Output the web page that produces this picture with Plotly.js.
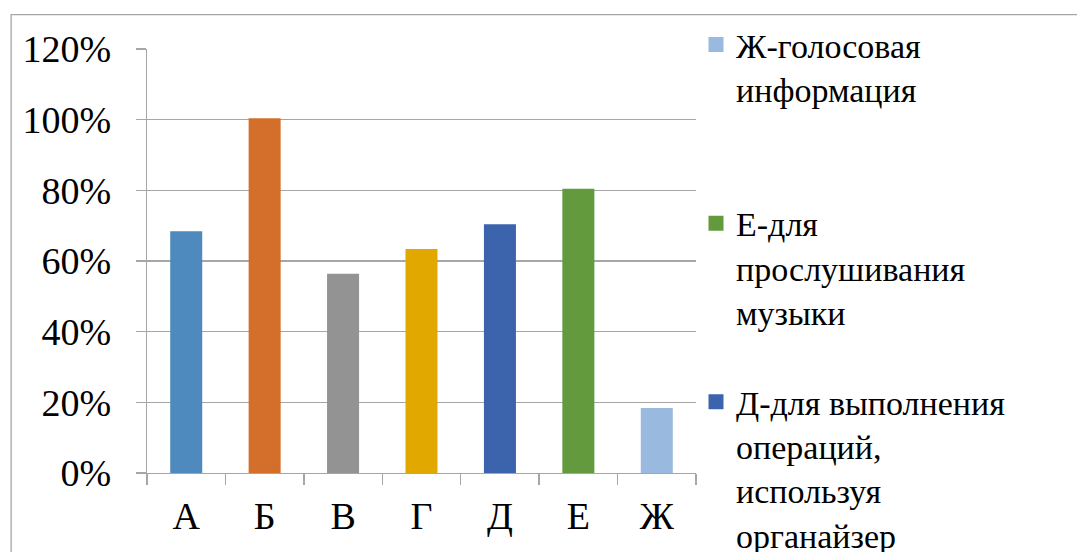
<!DOCTYPE html>
<html>
<head>
<meta charset="utf-8">
<script src="https://cdn.plot.ly/plotly-3.0.1.min.js"></script>
<style>
  html, body { margin: 0; padding: 0; background: #ffffff; }
  #chart { width: 1077px; height: 552px; }
</style>
</head>
<body>
<div id="chart"></div>
<script>
// Categories (letters) and the share of answers for each
const categories = ['А', 'Б', 'В', 'Г', 'Д', 'Е', 'Ж'];
const shares = [0.68, 1.00, 0.56, 0.63, 0.70, 0.80, 0.18];
const barColors = ['#4F8ABE', '#D36F2B', '#939393', '#E1A900', '#3C64AD', '#629A3D', '#99B9DF'];
// Legend captions (only these entries fit in the frame), listed top to bottom
const legendOrder = ['Ж', 'Е', 'Д'];
const legendNames = {
  'Ж': 'Ж-голосовая<br>информация<br> ',
  'Е': 'Е-для<br>прослушивания<br>музыки',
  'Д': 'Д-для выполнения<br>операций,<br>используя<br>органайзер'
};
const yTicks = [0, 0.2, 0.4, 0.6, 0.8, 1.0, 1.2];
const yTickText = ['0%', '20%', '40%', '60%', '80%', '100%', '120%'];

const FONT = 'Liberation Serif, Times New Roman, DejaVu Serif, serif';
const GRID = '#A6A6A6';

// One trace per category so each bar has its own legend entry
const traces = categories.map((c, i) => ({
  type: 'bar',
  x: [c],
  y: [shares[i]],
  name: legendNames[c] || c,
  showlegend: legendOrder.includes(c),
  legendrank: legendOrder.includes(c) ? legendOrder.indexOf(c) + 1 : 1000,
  legendgroup: c,
  marker: { color: barColors[i], line: { color: barColors[i], width: 3 } },
  hoverinfo: 'x+y'
}));

const layout = {
  width: 1077,
  height: 552,
  margin: { l: 146.5, r: 381, t: 49, b: 78.5, pad: 0 },
  paper_bgcolor: '#ffffff',
  plot_bgcolor: '#ffffff',
  barmode: 'overlay',
  bargap: 0.63,
  font: { family: FONT, size: 38, color: '#000000' },
  xaxis: {
    type: 'category',
    categoryorder: 'array',
    categoryarray: categories,
    showgrid: false,
    showline: true,
    linecolor: GRID,
    linewidth: 1.3,
    ticks: 'outside',
    tickson: 'boundaries',
    ticklen: 11,
    tickwidth: 1.3,
    tickcolor: GRID,
    ticklabelstandoff: 9,
    tickfont: { family: FONT, size: 38, color: '#000000' },
    zeroline: false,
    fixedrange: true
  },
  yaxis: {
    range: [0, 1.2],
    tickvals: yTicks,
    ticktext: yTickText,
    showgrid: true,
    gridcolor: GRID,
    gridwidth: 1.3,
    showline: true,
    linecolor: GRID,
    linewidth: 1.3,
    ticks: 'outside',
    ticklen: 10,
    tickwidth: 1.3,
    tickcolor: GRID,
    ticklabelstandoff: 17,
    tickfont: { family: FONT, size: 38, color: '#000000' },
    zeroline: false,
    fixedrange: true
  },
  legend: {
    x: 1.0,
    xanchor: 'left',
    y: 1.0777,
    yanchor: 'top',
    traceorder: 'grouped',
    tracegroupgap: 43,
    valign: 'top',
    maxheight: 536,
    bgcolor: 'rgba(0,0,0,0)',
    borderwidth: 0,
    font: { family: FONT, size: 34, color: '#000000' }
  },
  shapes: [
    // outer chart frame
    {
      type: 'rect', xref: 'paper', yref: 'paper',
      x0: -0.2475, x1: 2.5, y0: -0.6, y1: 1.0813,
      line: { color: '#A6A6A6', width: 1.3 },
      fillcolor: 'rgba(0,0,0,0)',
      layer: 'below'
    }
  ],
  showlegend: true
};

Plotly.newPlot('chart', traces, layout, { displayModeBar: false, staticPlot: true });
</script>
</body>
</html>
